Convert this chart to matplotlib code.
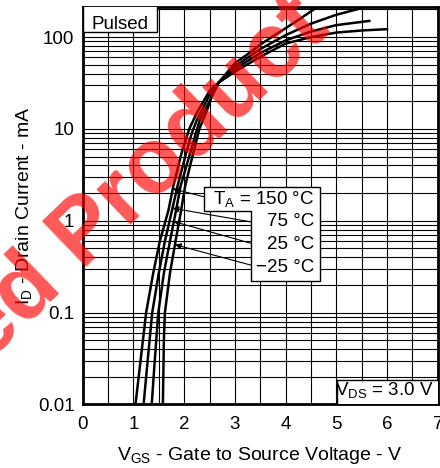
# Transfer characteristics: drain current vs gate-source voltage (pulsed)

import numpy as np
import matplotlib
matplotlib.use("Agg")
import matplotlib.pyplot as plt
from matplotlib.patches import Polygon, Rectangle

plt.rcParams['font.family'] = ['Liberation Sans', 'DejaVu Sans']
plt.rcParams['mathtext.fontset'] = 'custom'
plt.rcParams['mathtext.rm'] = 'Liberation Sans'

# Curves (V, mA)
vgs_150 = [1.04, 1.14, 1.25, 1.39, 1.52, 1.69, 1.78, 1.95, 2.10, 2.25, 2.50, 2.68, 3.00, 3.50, 4.00, 4.50, 5.00, 5.50, 6.00]
id_150 = [0.01, 0.03, 0.1, 0.27, 0.6, 1.3, 2.3, 5.5, 10, 15, 26, 32, 42, 61, 85, 100, 112, 118, 122]

vgs_75 = [1.20, 1.28, 1.37, 1.50, 1.62, 1.76, 1.87, 2.04, 2.15, 2.25, 2.50, 2.68, 3.00, 3.50, 4.00, 4.50, 5.00, 5.65]
id_75 = [0.01, 0.03, 0.1, 0.27, 0.6, 1.3, 2.4, 5.5, 9, 12.5, 23.5, 32, 45, 67, 92, 115, 135, 150]

vgs_25 = [1.36, 1.42, 1.49, 1.60, 1.72, 1.84, 1.93, 2.12, 2.23, 2.31, 2.50, 2.68, 3.00, 3.50, 4.00, 4.50, 5.00, 5.50]
id_25 = [0.01, 0.03, 0.1, 0.27, 0.6, 1.3, 2.4, 5.5, 9, 12.6, 20, 32, 48, 74, 105, 140, 175, 207]

vgs_m25 = [1.58, 1.60, 1.62, 1.72, 1.83, 1.94, 2.02, 2.18, 2.30, 2.45, 2.56, 2.68, 3.00, 3.30, 3.50, 4.00, 4.30, 4.61]
id_m25 = [0.01, 0.05, 0.1, 0.27, 0.6, 1.3, 2.4, 5.5, 10, 16, 24, 32, 52, 68, 83, 125, 160, 210]

curves = [(vgs_150, id_150), (vgs_75, id_75), (vgs_25, id_25), (vgs_m25, id_m25)]

temp_labels = ['$\\mathregular{T_A}$ = 150 °C', '75 °C', '25 °C', '\u221225 °C']
# current where each label arrow meets its curve (mA)
arrow_id = [2.23, 1.37, 0.98, 0.55]

x_ticks = [0, 1, 2, 3, 4, 5, 6, 7]
y_ticks = [0.01, 0.1, 1, 10, 100]
y_ticklabels = ['0.01', '0.1', '1', '10', '100']

fig = plt.figure(figsize=(4.4, 4.68), dpi=100)
ax = fig.add_axes([0.188, 0.1357, 0.807, 0.8483])

ax.set_yscale('log')
ax.set_xlim(0, 7)
ax.set_ylim(0.01, 210)

for v, i in curves:
    ax.plot(v, i, color='black', lw=1.8, zorder=3)

# grid: every 0.5 V and every log minor step
ax.set_xticks(x_ticks)
ax.set_xticks(np.arange(0, 7.01, 0.5), minor=True)
ax.set_yticks(y_ticks)
ax.set_yticklabels(y_ticklabels)
ax.yaxis.set_minor_locator(matplotlib.ticker.LogLocator(base=10, subs=np.arange(2, 10)))
ax.yaxis.set_minor_formatter(matplotlib.ticker.NullFormatter())
ax.grid(True, which='both', color='black', lw=0.8)
ax.tick_params(which='both', length=0, labelsize=13.5)
ax.tick_params(axis='x', pad=8)
ax.tick_params(axis='y', pad=6)
for s in ax.spines.values():
    s.set_linewidth(2.0)

ax.set_xlabel('$\\mathregular{V_{GS}}$ - Gate to Source Voltage - V', fontsize=14, labelpad=9)
ax.set_ylabel('$\\mathregular{I_D}$ - Drain Current - mA', fontsize=14, labelpad=3)

# "Pulsed" box
ax.add_patch(Rectangle((0, 0.938), 0.21, 0.07, transform=ax.transAxes,
                       facecolor='white', edgecolor='black', lw=1.0, zorder=4))
ax.text(0.025, 0.957, 'Pulsed', transform=ax.transAxes, fontsize=13.5,
        ha='left', va='center', zorder=5)

# VDS box
ax.add_patch(Rectangle((0.716, -0.01), 0.3, 0.072, transform=ax.transAxes,
                       facecolor='white', edgecolor='black', lw=1.0, zorder=4))
ax.text(0.987, 0.037, '$\\mathregular{V_{DS}}$ = 3.0 V', transform=ax.transAxes,
        fontsize=13.5, ha='right', va='center', zorder=5)

# temperature label box (stepped outline)
box = [(0.342, 0.548), (0.669, 0.548), (0.669, 0.311), (0.474, 0.311),
       (0.474, 0.487), (0.342, 0.487)]
ax.add_patch(Polygon(box, closed=True, transform=ax.transAxes,
                     facecolor='white', edgecolor='black', lw=1.0, zorder=4))

label_y = [0.518, 0.460, 0.402, 0.346]
tail_xy = [(0.342, 0.523), (0.474, 0.460), (0.474, 0.406), (0.474, 0.351)]
for (v, i), lab, ly, tail, ia in zip(curves, temp_labels, label_y, tail_xy, arrow_id):
    ax.text(0.652, ly, lab, transform=ax.transAxes, fontsize=13.5,
            ha='right', va='center', zorder=5)
    tip_v = np.interp(np.log10(ia), np.log10(i), v)
    ax.annotate('', xy=(tip_v, ia), xytext=tail, textcoords='axes fraction',
                arrowprops=dict(arrowstyle='-|>', color='black', lw=0.8,
                                mutation_scale=9, shrinkA=0, shrinkB=0),
                zorder=5)

# red watermark
fig.text(0.325, 0.615, 'ed Product', rotation=44, rotation_mode='anchor',
         color='red', alpha=0.65, fontsize=66, fontweight='bold',
         ha='center', va='center', zorder=10)

fig.savefig('out.png', dpi=100)
